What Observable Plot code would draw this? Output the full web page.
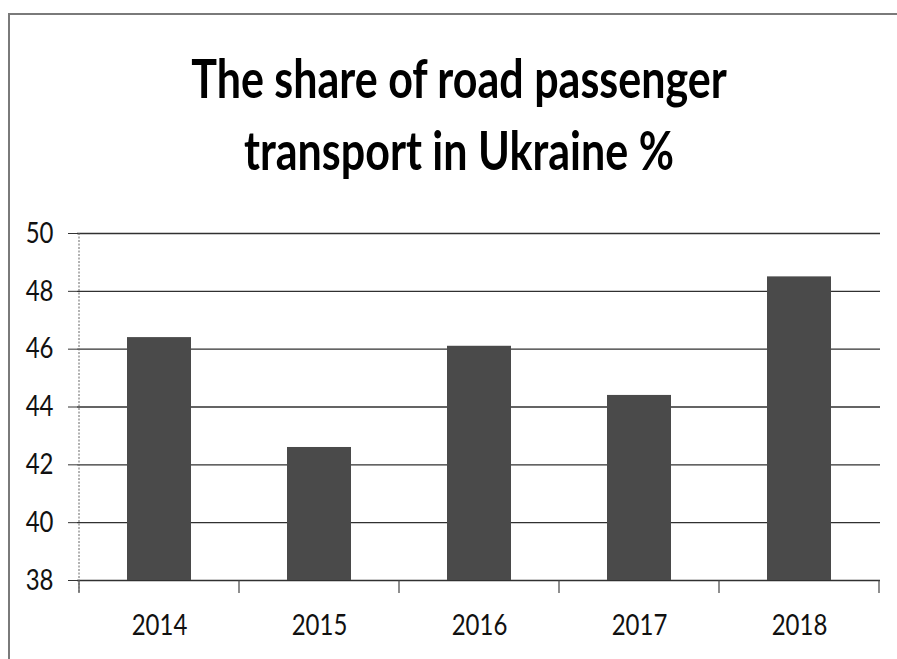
<!DOCTYPE html>
<html><head><meta charset="utf-8">
<script src="https://cdn.jsdelivr.net/npm/d3@7"></script>
<script src="https://cdn.jsdelivr.net/npm/@observablehq/plot@0.6"></script>
<style>
html,body{margin:0;padding:0;background:#fff;}
#wrap{position:relative;width:897px;height:659px;overflow:hidden;background:#fff;}
#frame{position:absolute;left:8px;top:13px;right:-10px;bottom:-10px;border-top:2px solid #7a7a7a;border-left:2px solid #7a7a7a;}
#title{position:absolute;left:9px;width:900px;top:46px;text-align:center;font-family:Lato,sans-serif;font-weight:700;font-size:43px;line-height:72px;color:#000;}
#title span{display:block;transform:scaleY(1.25);transform-origin:50% 52.6px;}
#chart{position:absolute;left:0;top:215px;}
</style></head><body>
<div id="wrap"><div id="frame"></div><div id="title"><span>The share of road passenger</span><span>transport in Ukraine %</span></div><div id="chart"></div></div>
<script>
const years = ["2014", "2015", "2016", "2017", "2018"];
const shares = [46.4, 42.6, 46.1, 44.4, 48.5];
const yDomain = [38, 50];
const yTicks = [38, 40, 42, 44, 46, 48, 50];
const data = years.map((year, i) => ({year, share: shares[i]}));

// category boundary ticks + dotted value-axis line, derived from the x scale
function boundaryTicks(index, scales, values, dimensions) {
  const x = scales.x;
  const bw = typeof x.bandwidth === "function" ? x.bandwidth() : x.bandwidth;
  const step = x(years[1]) - x(years[0]);
  const gap = step - bw;
  const xs = years.map(y => x(y) - gap / 2).concat([x(years[years.length - 1]) + bw + gap / 2]);
  const y0 = dimensions.height - dimensions.marginBottom;
  const g = d3.create("svg:g");
  g.selectAll("line.t").data(xs).join("line")
    .attr("x1", d => d).attr("x2", d => d)
    .attr("y1", y0).attr("y2", y0 + 13)
    .attr("stroke", "#444").attr("stroke-width", 1.2);
  g.append("line")
    .attr("x1", xs[0]).attr("x2", xs[0])
    .attr("y1", dimensions.marginTop).attr("y2", y0 + 13)
    .attr("stroke", "#666").attr("stroke-width", 1).attr("stroke-dasharray", "2,1.5");
  return g.node();
}

const chart = Plot.plot({
  width: 897,
  height: 444,
  marginLeft: 77,
  marginRight: 17,
  marginTop: 18,
  marginBottom: 79,
  style: {fontFamily: "Lato, sans-serif", fontSize: "24px", color: "#111", background: "transparent"},
  x: {domain: years, paddingInner: 0.6, paddingOuter: 0.3, label: null},
  y: {domain: yDomain, ticks: yTicks, label: null},
  marks: [
    Plot.gridY(yTicks, {stroke: "#1a1a1a", strokeOpacity: 0.9, strokeWidth: 1.3}),
    Plot.barY(data, {x: "year", y1: yDomain[0], y2: "share", fill: "#4a4a4a"}),
    Plot.axisY(yTicks, {tickSize: 9, tickPadding: 15, fontSize: 24, stroke: "#333"}),
    Plot.axisX({tickSize: 0, tickPadding: 34, fontSize: 24}),
    boundaryTicks
  ]
});
// stretch tick label glyphs vertically (the reference type is tall and narrow)
d3.select(chart).selectAll("text").each(function () {
  const t = this.getAttribute("transform");
  if (t && t.includes("translate")) {
    this.setAttribute("transform", t + " scale(1,1.2)");
  } else {
    const x = +(this.getAttribute("x") || 0), y = +(this.getAttribute("y") || 0);
    this.setAttribute("transform", `translate(${x},${y}) scale(1,1.2) translate(${-x},${-y})`);
  }
});
document.getElementById("chart").appendChild(chart);
</script>
</body></html>
